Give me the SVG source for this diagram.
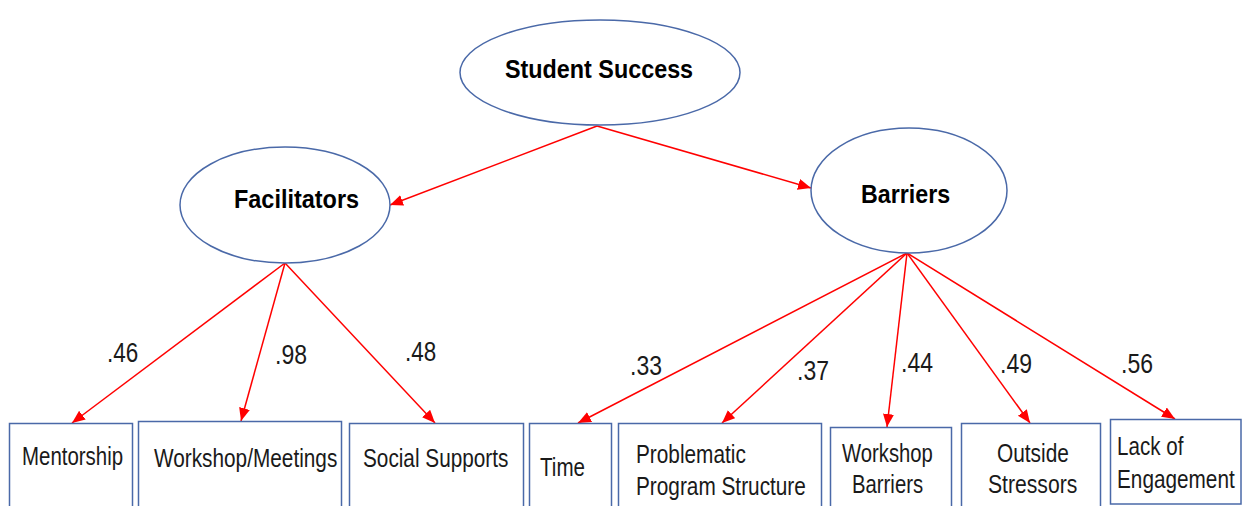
<svg xmlns="http://www.w3.org/2000/svg" width="1242" height="506" viewBox="0 0 1242 506">
  <defs>
    <marker id="arrow" markerUnits="userSpaceOnUse" markerWidth="14" markerHeight="12" refX="13" refY="5.5" orient="auto">
      <path d="M0,0 L13,5.5 L0,11 z" fill="#ff0000"/>
    </marker>
    <style>
      .latent { fill: #ffffff; stroke: #4a69a8; stroke-width: 1.5; }
      .box { fill: #ffffff; stroke: #4a69a8; stroke-width: 1.5; }
      .title { font-family: "Liberation Sans", Arial, sans-serif; font-weight: bold; font-size: 26px; fill: #000; }
      .item { font-family: "Liberation Sans", Arial, sans-serif; font-size: 26px; fill: #1a1a1a; }
      .coef { font-family: "Liberation Sans", Arial, sans-serif; font-size: 28px; fill: #1a1a1a; }
      .path { stroke: #ff0000; stroke-width: 1.5; fill: none; marker-end: url(#arrow); }
    </style>
  </defs>
  <rect width="1242" height="506" fill="#ffffff"/>

  <!-- structural and loading paths -->
  <g id="connectors">
    <line class="path" x1="597" y1="126" x2="390" y2="205"/>
    <line class="path" x1="597" y1="126" x2="811" y2="188"/>
    <line class="path" x1="285" y1="263" x2="72" y2="423"/>
    <line class="path" x1="285" y1="263" x2="241" y2="421"/>
    <line class="path" x1="285" y1="263" x2="435" y2="423"/>
    <line class="path" x1="907" y1="253" x2="578" y2="423"/>
    <line class="path" x1="907" y1="253" x2="722" y2="423"/>
    <line class="path" x1="907" y1="253" x2="887" y2="427"/>
    <line class="path" x1="907" y1="253" x2="1030" y2="423"/>
    <line class="path" x1="907" y1="253" x2="1175" y2="419"/>
  </g>

  <!-- loading coefficients (narrow face: horizontally condensed) -->
  <g id="coefficients">
    <text class="coef" transform="translate(107 362) scale(0.8 1)" textLength="39" lengthAdjust="spacingAndGlyphs">.46</text>
    <text class="coef" transform="translate(275 364) scale(0.8 1)" textLength="40" lengthAdjust="spacingAndGlyphs">.98</text>
    <text class="coef" transform="translate(405 361) scale(0.8 1)" textLength="39" lengthAdjust="spacingAndGlyphs">.48</text>
    <text class="coef" transform="translate(630 375) scale(0.8 1)" textLength="40" lengthAdjust="spacingAndGlyphs">.33</text>
    <text class="coef" transform="translate(797 380) scale(0.8 1)" textLength="40" lengthAdjust="spacingAndGlyphs">.37</text>
    <text class="coef" transform="translate(901 372) scale(0.8 1)" textLength="40" lengthAdjust="spacingAndGlyphs">.44</text>
    <text class="coef" transform="translate(1000 373) scale(0.8 1)" textLength="40" lengthAdjust="spacingAndGlyphs">.49</text>
    <text class="coef" transform="translate(1121 373) scale(0.8 1)" textLength="40" lengthAdjust="spacingAndGlyphs">.56</text>
  </g>

  <!-- latent factors -->
  <g id="student-success">
    <ellipse class="latent" cx="600" cy="72.5" rx="140" ry="52.5"/>
    <text class="title" transform="translate(505 78) scale(0.9 1)" textLength="209" lengthAdjust="spacingAndGlyphs">Student Success</text>
  </g>
  <g id="facilitators">
    <ellipse class="latent" cx="285" cy="205" rx="105" ry="58"/>
    <text class="title" transform="translate(234 208) scale(0.9 1)" textLength="139" lengthAdjust="spacingAndGlyphs">Facilitators</text>
  </g>
  <g id="barriers">
    <ellipse class="latent" cx="909" cy="190.5" rx="98" ry="62.5"/>
    <text class="title" transform="translate(861 203) scale(0.9 1)" textLength="99" lengthAdjust="spacingAndGlyphs">Barriers</text>
  </g>

  <!-- observed indicators -->
  <g id="mentorship">
    <rect class="box" x="9.5" y="423.5" width="123" height="90"/>
    <text class="item" transform="translate(22 465) scale(0.79 1)" textLength="128" lengthAdjust="spacingAndGlyphs">Mentorship</text>
  </g>
  <g id="workshop-meetings">
    <rect class="box" x="138.5" y="421.5" width="203" height="92"/>
    <text class="item" transform="translate(154 467) scale(0.79 1)" textLength="232" lengthAdjust="spacingAndGlyphs">Workshop/Meetings</text>
  </g>
  <g id="social-supports">
    <rect class="box" x="349.5" y="423.5" width="174" height="90"/>
    <text class="item" transform="translate(363 467) scale(0.79 1)" textLength="184" lengthAdjust="spacingAndGlyphs">Social Supports</text>
  </g>
  <g id="time">
    <rect class="box" x="529.5" y="423.5" width="82" height="90"/>
    <text class="item" transform="translate(540 476) scale(0.79 1)" textLength="57" lengthAdjust="spacingAndGlyphs">Time</text>
  </g>
  <g id="problematic-program-structure">
    <rect class="box" x="618.5" y="423.5" width="203" height="90"/>
    <text class="item" transform="translate(636 463) scale(0.79 1)" textLength="139" lengthAdjust="spacingAndGlyphs">Problematic</text>
    <text class="item" transform="translate(636 495) scale(0.79 1)" textLength="215" lengthAdjust="spacingAndGlyphs">Program Structure</text>
  </g>
  <g id="workshop-barriers">
    <rect class="box" x="830.5" y="427.5" width="121" height="86"/>
    <text class="item" transform="translate(842 462) scale(0.79 1)" textLength="115" lengthAdjust="spacingAndGlyphs">Workshop</text>
    <text class="item" transform="translate(852 493) scale(0.79 1)" textLength="90" lengthAdjust="spacingAndGlyphs">Barriers</text>
  </g>
  <g id="outside-stressors">
    <rect class="box" x="961.5" y="423.5" width="139" height="90"/>
    <text class="item" transform="translate(997 462) scale(0.79 1)" textLength="91" lengthAdjust="spacingAndGlyphs">Outside</text>
    <text class="item" transform="translate(988 493) scale(0.79 1)" textLength="113" lengthAdjust="spacingAndGlyphs">Stressors</text>
  </g>
  <g id="lack-of-engagement">
    <rect class="box" x="1110.5" y="419.5" width="130.5" height="84.5"/>
    <text class="item" transform="translate(1117 455) scale(0.79 1)" textLength="84" lengthAdjust="spacingAndGlyphs">Lack of</text>
    <text class="item" transform="translate(1117 488) scale(0.79 1)" textLength="149" lengthAdjust="spacingAndGlyphs">Engagement</text>
  </g>
</svg>
